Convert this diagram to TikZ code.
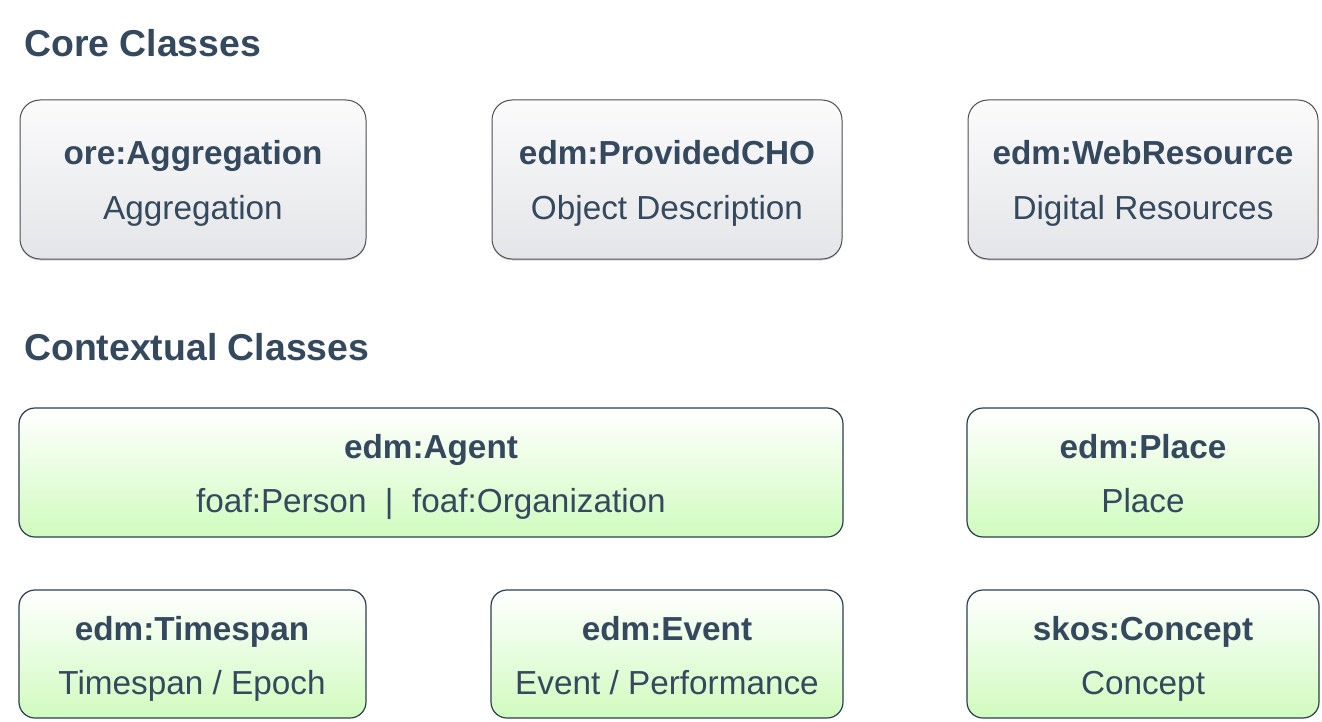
\documentclass[tikz,border=0pt]{standalone}
\usepackage{fontspec}
\setmainfont{Liberation Sans}
\usetikzlibrary{shadows}
\definecolor{txt}{HTML}{34495E}
\definecolor{edge}{HTML}{2C3E50}
\definecolor{coreedge}{HTML}{4A4F56}
\definecolor{coretop}{HTML}{FBFBFC}
\definecolor{corebot}{HTML}{E4E5E8}
\definecolor{ctxtop}{HTML}{FFFFFF}
\definecolor{ctxbot}{HTML}{D0FBBE}
\tikzset{
  corebox/.style={draw=coreedge, line width=1pt, rounded corners=20pt, top color=coretop, bottom color=corebot,
    drop shadow={opacity=0.3, shadow xshift=0pt, shadow yshift=-1.5pt}},
  ctxbox/.style={draw=edge, line width=1.2pt, rounded corners=16pt, top color=ctxtop, bottom color=ctxbot},
  head/.style={text=txt, font=\bfseries\fontsize{37.4}{42}\selectfont, anchor=base west, inner sep=0pt},
  bl/.style={text=txt, font=\bfseries\fontsize{33.3}{38}\selectfont, anchor=base, inner sep=0pt},
  nl/.style={text=txt, font=\fontsize{33.3}{38}\selectfont, anchor=base, inner sep=0pt},
}
\begin{document}
\begin{tikzpicture}[x=1pt,y=-1pt]
\useasboundingbox (0,0) rectangle (1322,722);
\node[head] (h1) at (24,57) {Core Classes};
\node[head] (h2) at (24,360) {Contextual Classes};
% core
\path[corebox] (20,100) rectangle (366,259);
\path[corebox] (492,100) rectangle (842,259);
\path[corebox] (968,100) rectangle (1318,259);
\node[bl] (a1) at (193,165) {ore:Aggregation};
\node[nl] (a2) at (193,219) {Aggregation};
\node[bl] (b1) at (667,165) {edm:ProvidedCHO};
\node[nl] (b2) at (667,219) {Object Description};
\node[bl] (c1) at (1143,165) {edm:WebResource};
\node[nl] (c2) at (1143,219) {Digital Resources};
% contextual
\path[ctxbox] (19,408) rectangle (843,537);
\path[ctxbox] (967,408) rectangle (1319,537);
\path[ctxbox] (19,590) rectangle (366,718);
\path[ctxbox] (491,590) rectangle (843,718);
\path[ctxbox] (967,590) rectangle (1319,718);
\node[bl] (d1) at (431,458) {edm:Agent};
\node[nl] (d2) at (431,512) {foaf:Person\ \ |\ \ foaf:Organization};
\node[bl] (e1) at (1143,458) {edm:Place};
\node[nl] (e2) at (1143,512) {Place};
\node[bl] (f1) at (192,640) {edm:Timespan};
\node[nl] (f2) at (192,694) {Timespan / Epoch};
\node[bl] (g1) at (667,640) {edm:Event};
\node[nl] (g2) at (667,694) {Event / Performance};
\node[bl] (k1) at (1143,640) {skos:Concept};
\node[nl] (k2) at (1143,694) {Concept};
\end{tikzpicture}
\end{document}
